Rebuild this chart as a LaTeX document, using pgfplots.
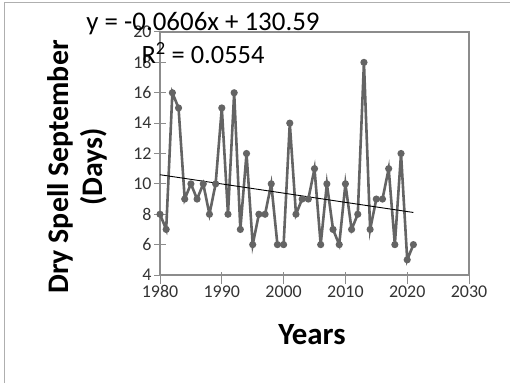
\documentclass[border=0pt]{standalone}
\usepackage{pgfplots}
\pgfplotsset{compat=1.18}
\usepackage{fontspec}
\setmainfont{Carlito}
\definecolor{series}{RGB}{100,100,100}
\definecolor{frame}{RGB}{140,140,140}
\begin{document}
\begin{tikzpicture}[x=1bp,y=1bp]
\useasboundingbox (0,0) rectangle (510,383);
\draw[color=frame!70, line width=0.8bp] (4,0) -- (4,381) -- (510,381);
\begin{axis}[
  at={(160bp,108bp)}, anchor=south west,
  scale only axis, width=309bp, height=243bp,
  xmin=1980, xmax=2030, ymin=4, ymax=20,
  xtick={1980,1990,2000,2010,2020,2030},
  ytick={4,6,8,10,12,14,16,18,20},
  xtick pos=bottom, ytick pos=left,
  /pgf/number format/assume math mode=true,
  /pgf/number format/1000 sep={},
  tick style={color=frame, line width=1bp},
  tick align=center,
  major tick length=12bp,
  x tick style={yshift=-3bp},
  axis line style={color=frame, line width=1.5bp},
  ticklabel style={font=\fontsize{18}{21}\selectfont, color=black!80},
  yticklabel style={xshift=1bp},
  xticklabel style={yshift=-1bp},
  clip=false,
]
\addplot[color=series, line width=2.6bp, mark=*, mark size=2.2bp, mark options={fill=series}]
coordinates {
(1980,8)(1981,7)(1982,16)(1983,15)(1984,9)(1985,10)(1986,9)(1987,10)(1988,8)(1989,10)
(1990,15)(1991,8)(1992,16)(1993,7)(1994,12)(1995,6)(1996,8)(1997,8)(1998,10)(1999,6)
(2000,6)(2001,14)(2002,8)(2003,9)(2004,9)(2005,11)(2006,6)(2007,10)(2008,7)(2009,6)
(2010,10)(2011,7)(2012,8)(2013,18)(2014,7)(2015,9)(2016,9)(2017,11)(2018,6)(2019,12)
(2020,5)(2021,6)
};
\addplot[black, line width=0.9bp] coordinates {(1980,10.602) (2021,8.117)};
\end{axis}
\node[font=\fontsize{27}{32}\selectfont, anchor=center] at (203,359) {y = -0.0606x + 130.59};
\node[font=\fontsize{26.5}{31}\selectfont, anchor=center] at (203,330) {R\textsuperscript{2} = 0.0554};
\node[font=\bfseries\fontsize{30}{34}\selectfont, rotate=90, align=center] at (77,216) {Dry Spell September\\(Days)};
\node[font=\bfseries\fontsize{31}{36}\selectfont] at (312,48) {Years};
\end{tikzpicture}
\end{document}
